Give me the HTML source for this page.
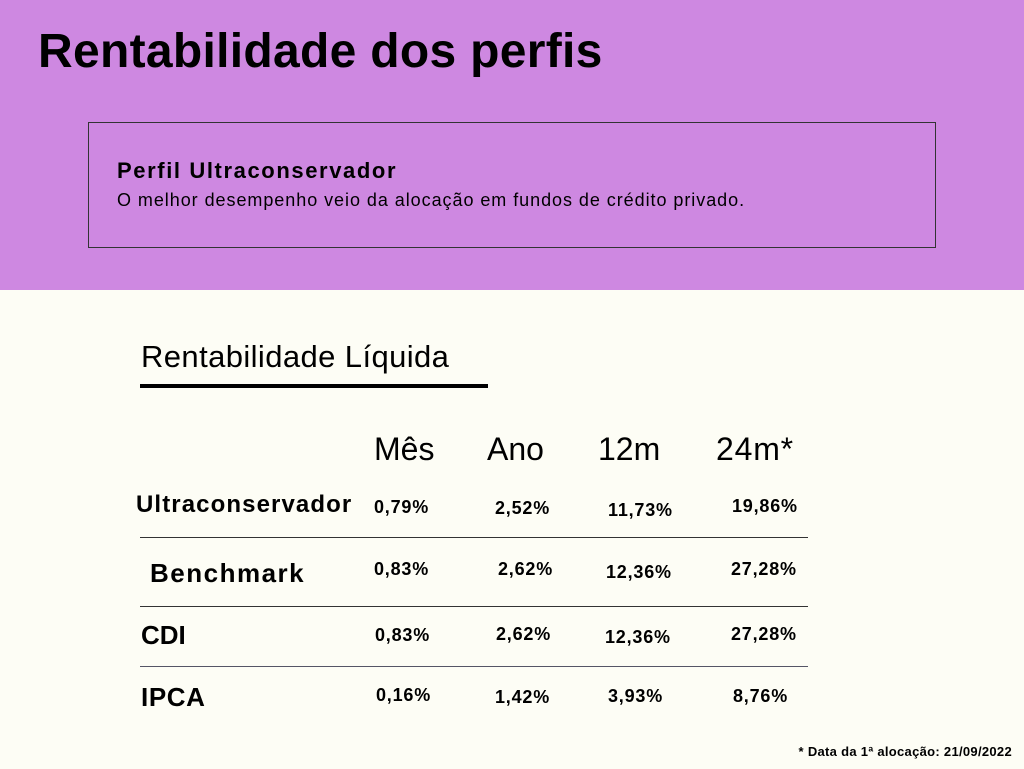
<!DOCTYPE html>
<html><head><meta charset="utf-8"><style>
body{margin:0;width:1024px;height:769px;position:relative;overflow:hidden;background:#fdfdf5;font-family:"Liberation Sans",sans-serif;color:#000}
.a{position:absolute;white-space:nowrap;line-height:1}
.v{position:absolute;white-space:nowrap;font-weight:bold;font-size:18px;letter-spacing:0.8px;line-height:1}
.l{position:absolute;left:140px;width:668px;height:1px;background:#333}
</style></head><body>
<div style="position:absolute;left:0;top:0;width:1024px;height:290px;background:#ce88e1"></div>
<div class="a" style="left:38px;top:28px;font-size:48px;font-weight:bold;letter-spacing:0.3px">Rentabilidade dos perfis</div>
<div style="position:absolute;left:88px;top:122px;width:846px;height:124px;border:1px solid #333"></div>
<div class="a" style="left:117px;top:160px;font-size:22px;font-weight:bold;letter-spacing:1.6px">Perfil Ultraconservador</div>
<div class="a" style="left:117px;top:191px;font-size:18px;letter-spacing:0.95px">O melhor desempenho veio da alocação em fundos de crédito privado.</div>
<div class="a" style="left:141px;top:341px;font-size:31px;letter-spacing:0.4px">Rentabilidade Líquida</div>
<div style="position:absolute;left:140px;top:384px;width:348px;height:4px;background:#000"></div>
<div class="a" style="left:374px;top:433px;font-size:32px">Mês</div>
<div class="a" style="left:487px;top:433px;font-size:32px">Ano</div>
<div class="a" style="left:598px;top:433px;font-size:32px">12m</div>
<div class="a" style="left:716px;top:433px;font-size:32px;letter-spacing:0.8px">24m*</div>

<div class="a" style="left:136px;top:493px;font-size:24px;font-weight:bold;letter-spacing:1.1px">Ultraconservador</div>
<div class="v" style="left:374px;top:498px">0,79%</div>
<div class="v" style="left:495px;top:499px">2,52%</div>
<div class="v" style="left:608px;top:501px">11,73%</div>
<div class="v" style="left:732px;top:497px">19,86%</div>
<div class="l" style="top:537px"></div>

<div class="a" style="left:150px;top:560px;font-size:26px;font-weight:bold;letter-spacing:1.5px">Benchmark</div>
<div class="v" style="left:374px;top:560px">0,83%</div>
<div class="v" style="left:498px;top:560px">2,62%</div>
<div class="v" style="left:606px;top:563px">12,36%</div>
<div class="v" style="left:731px;top:560px">27,28%</div>
<div class="l" style="top:606px"></div>

<div class="a" style="left:141px;top:622px;font-size:26px;font-weight:bold">CDI</div>
<div class="v" style="left:375px;top:626px">0,83%</div>
<div class="v" style="left:496px;top:625px">2,62%</div>
<div class="v" style="left:605px;top:628px">12,36%</div>
<div class="v" style="left:731px;top:625px">27,28%</div>
<div class="l" style="top:666px;background:#556"></div>

<div class="a" style="left:141px;top:684px;font-size:26px;font-weight:bold;letter-spacing:0.6px">IPCA</div>
<div class="v" style="left:376px;top:686px">0,16%</div>
<div class="v" style="left:495px;top:688px">1,42%</div>
<div class="v" style="left:608px;top:687px">3,93%</div>
<div class="v" style="left:733px;top:687px">8,76%</div>

<div class="a" style="right:12px;top:745px;font-size:13px;font-weight:bold;letter-spacing:0.3px">* Data da 1ª alocação: 21/09/2022</div>
</body></html>
